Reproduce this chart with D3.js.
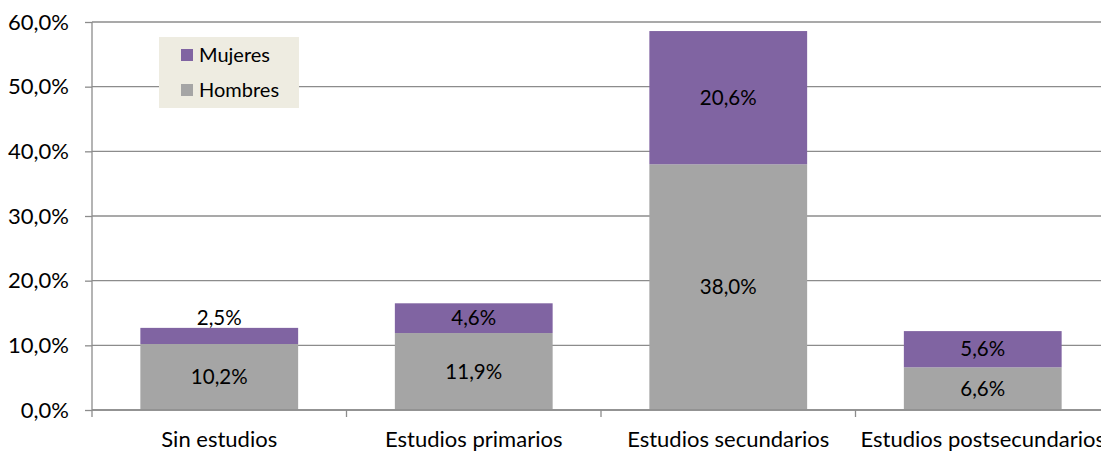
<!DOCTYPE html>
<html>
<head>
<meta charset="utf-8">
<script src="https://cdn.jsdelivr.net/npm/d3@7"></script>
<style>
  html, body { margin: 0; padding: 0; background: #fff; }
  svg { display: block; font-family: Lato, "Open Sans", sans-serif; }
</style>
</head>
<body>
<svg id="chart" width="1101" height="452"></svg>
<script>
// Educational level by sex (% of total)
const categories = ["Sin estudios", "Estudios primarios", "Estudios secundarios", "Estudios postsecundarios"];
const hombres = [10.2, 11.9, 38.0, 6.6];
const mujeres = [2.5, 4.6, 20.6, 5.6];
const seriesNames = ["Hombres", "Mujeres"];
const yTicks = [0, 10, 20, 30, 40, 50, 60];

const colors = { Hombres: "#A5A5A5", Mujeres: "#8064A2" };
const svg = d3.select("#chart");
const margin = { left: 92, top: 22, right: -9, bottom: 42 };
const W = 1101, H = 452;
const plotW = W - margin.left - margin.right;
const plotH = H - margin.top - margin.bottom;

const fmt = v => d3.format(".1f")(v).replace(".", ",") + "%";

const x = d3.scaleBand().domain(categories).range([0, plotW]).paddingInner(0.38).paddingOuter(0.19);
const y = d3.scaleLinear().domain([0, 60]).range([plotH, 0]);

const g = svg.append("g").attr("transform", `translate(${margin.left},${margin.top})`);

// gridlines
g.append("g").selectAll("line").data(yTicks).join("line")
  .attr("x1", 0).attr("x2", plotW)
  .attr("y1", d => y(d)).attr("y2", d => y(d))
  .attr("stroke", "#8c8c8c").attr("stroke-width", 1.3);

// stacked data
const rows = categories.map((c, i) => ({ cat: c, Hombres: hombres[i], Mujeres: mujeres[i] }));
const stack = d3.stack().keys(seriesNames)(rows);

const layers = g.append("g").selectAll("g").data(stack).join("g")
  .attr("fill", d => colors[d.key]);
layers.selectAll("rect").data(d => d.map(p => Object.assign({ key: d.key }, p))).join("rect")
  .attr("x", d => x(d.data.cat))
  .attr("width", x.bandwidth())
  .attr("y", d => y(d[1]))
  .attr("height", d => y(d[0]) - y(d[1]));

// value labels (moved above the bar when the segment is too thin)
const labelFont = 20.5;
layers.each(function (layer) {
  d3.select(this).selectAll("text").data(layer).join("text")
    .attr("x", d => x(d.data.cat) + x.bandwidth() / 2)
    .attr("y", d => {
      const h = y(d[0]) - y(d[1]);
      const cy = (y(d[0]) + y(d[1])) / 2;
      return h < 17 ? y(d[1]) - 10 : cy;
    })
    .attr("dy", "0.35em")
    .attr("text-anchor", "middle")
    .attr("fill", "#000")
    .attr("font-size", labelFont)
    .text(d => fmt(d.data[layer.key]));
});

// y axis
const yAxis = g.append("g").call(d3.axisLeft(y).tickValues(yTicks).tickSize(7).tickPadding(16).tickFormat(d => fmt(d)));
yAxis.select(".domain").attr("stroke", "#8c8c8c").attr("stroke-width", 1.3).attr("d", `M0,0V${plotH}`);
yAxis.selectAll(".tick line").attr("stroke", "#8c8c8c").attr("stroke-width", 1.3);
yAxis.selectAll("text").attr("font-size", 22).attr("fill", "#000").attr("font-family", "Lato, sans-serif");

// x axis
const xAxis = g.append("g").attr("transform", `translate(0,${plotH})`);
xAxis.append("line").attr("x1", 0).attr("x2", plotW).attr("stroke", "#8c8c8c").attr("stroke-width", 1.3);
const boundaries = d3.range(categories.length + 1).map(i => i * plotW / categories.length);
xAxis.selectAll(".xt").data(boundaries).join("line").attr("class", "xt")
  .attr("x1", d => d).attr("x2", d => d).attr("y1", 0).attr("y2", 7)
  .attr("stroke", "#8c8c8c").attr("stroke-width", 1.3);
xAxis.selectAll("text").data(categories).join("text")
  .attr("x", d => x(d) + x.bandwidth() / 2)
  .attr("y", 37)
  .attr("text-anchor", "middle")
  .attr("font-size", 22)
  .attr("fill", "#000")
  .text(d => d);

// legend
const legend = svg.append("g").attr("transform", "translate(159,37)");
legend.append("rect").attr("width", 140).attr("height", 71).attr("fill", "#EEECE1");
const legendItems = ["Mujeres", "Hombres"];
const li = legend.selectAll("g").data(legendItems).join("g")
  .attr("transform", (d, i) => `translate(22,${18 + i * 35})`);
li.append("rect").attr("x", 0).attr("y", -6).attr("width", 12).attr("height", 12).attr("fill", d => colors[d]);
li.append("text").attr("x", 18).attr("dy", "0.35em").attr("font-size", 20).attr("fill", "#000").text(d => d);
</script>
</body>
</html>
